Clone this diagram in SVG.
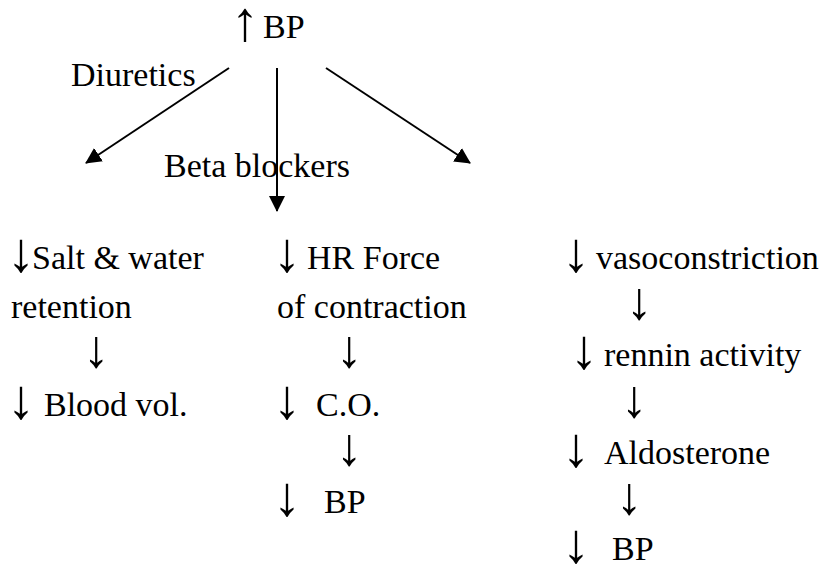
<svg xmlns="http://www.w3.org/2000/svg" width="825" height="568" viewBox="0 0 825 568">
<defs>
<marker id="ah" viewBox="0 0 16 16" refX="15" refY="8" markerWidth="16" markerHeight="16" markerUnits="userSpaceOnUse" orient="auto">
<path d="M0,0 L16,8 L0,16 Z" fill="#000"/>
</marker>
</defs>
<rect width="825" height="568" fill="#fff"/>
<g font-family="Liberation Serif, serif" font-size="34" fill="#000">
<g id="top"><text x="231" y="40" font-size="56">↑</text><text x="263" y="38">BP</text></g>
<g id="label-diuretics"><text x="71" y="86">Diuretics</text></g>
<g id="label-beta"><text x="164" y="177">Beta blockers</text></g>
<g id="left">
<text x="7" y="271" font-size="56">↓</text><text x="32" y="269">Salt &amp; water</text>
<text x="11" y="318">retention</text>
<text x="83" y="367" font-size="53">↓</text>
<text x="7" y="418" font-size="56">↓</text><text x="44" y="416">Blood vol.</text>
</g>
<g id="middle">
<text x="273" y="271" font-size="56">↓</text><text x="307" y="269">HR Force</text>
<text x="277" y="318">of contraction</text>
<text x="336" y="367" font-size="53">↓</text>
<text x="273" y="418" font-size="56">↓</text><text x="316" y="416">C.O.</text>
<text x="336" y="465" font-size="53">↓</text>
<text x="273" y="515" font-size="56">↓</text><text x="324" y="513">BP</text>
</g>
<g id="right">
<text x="562" y="271" font-size="56">↓</text><text x="596" y="269">vasoconstriction</text>
<text x="626" y="319" font-size="53">↓</text>
<text x="570" y="368" font-size="56">↓</text><text x="604" y="366">rennin activity</text>
<text x="621" y="417" font-size="53">↓</text>
<text x="562" y="466" font-size="56">↓</text><text x="604" y="464">Aldosterone</text>
<text x="616" y="514" font-size="53">↓</text>
<text x="562" y="562" font-size="56">↓</text><text x="612" y="560">BP</text>
</g>
</g>
<g id="connectors" stroke="#000" stroke-width="2">
<line x1="229" y1="68" x2="86" y2="163" marker-end="url(#ah)"/>
<line x1="277" y1="68" x2="277" y2="211" marker-end="url(#ah)"/>
<line x1="326" y1="68" x2="470" y2="163" marker-end="url(#ah)"/>
</g>
</svg>
